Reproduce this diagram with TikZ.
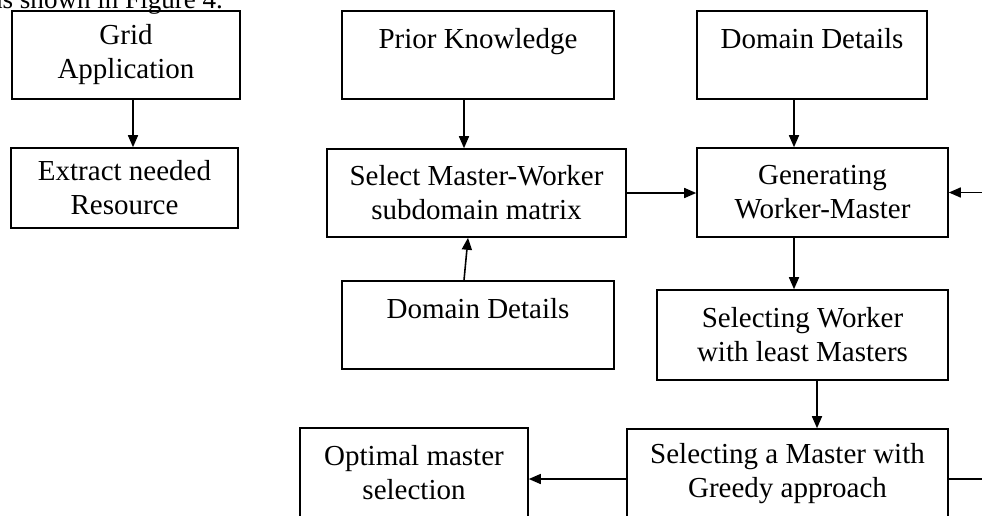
\documentclass[tikz,border=0pt]{standalone}
\usepackage{fontspec}
\setmainfont{Liberation Serif}
\usetikzlibrary{arrows.meta}
\begin{document}
\begin{tikzpicture}[->,>={Triangle[length=0.24cm,width=0.2cm]},line width=0.9pt,
        box/.style={draw,align=center,inner sep=0pt,font=\fontsize{16.5}{19.35}\selectfont}]
        \path[use as bounding box,clip] (0,0) rectangle (19.64,-10.30);
        \node (caption) [anchor=base west,font=\fontsize{15.4}{18}\selectfont] at (-0.32,-0.16) {as shown in Figure 4.};
        \node (grid) [box,minimum width=4.56cm,minimum height=1.76cm] at (2.52,-1.10) {Grid\\Application};
        \node (extract) [box,minimum width=4.54cm,minimum height=1.60cm] at (2.49,-3.76) {Extract needed\\Resource};
        \node (prior) [box,minimum width=5.44cm,minimum height=1.76cm] at (9.56,-1.10) {Prior Knowledge\\\mbox{}};
        \node (select) [box,minimum width=5.98cm,minimum height=1.76cm] at (9.53,-3.86) {Select Master-Worker\\subdomain matrix};
        \node (domtop) [box,minimum width=4.60cm,minimum height=1.76cm] at (16.24,-1.10) {Domain Details\\\mbox{}};
        \node (gen) [box,minimum width=5.02cm,minimum height=1.78cm] at (16.45,-3.85) {Generating\\Worker-Master};
        \node (dombot) [box,minimum width=5.44cm,minimum height=1.76cm] at (9.56,-6.50) {Domain Details\\\mbox{}};
        \node (worker) [box,minimum width=5.82cm,minimum height=1.80cm] at (16.05,-6.70) {Selecting Worker\\with least Masters};
        \node (optimal) [box,minimum width=4.56cm,minimum height=1.80cm] at (8.28,-9.46) {Optimal master\\selection};
        \node (greedy) [box,minimum width=6.42cm,minimum height=1.80cm] at (15.75,-9.48) {Selecting a Master with\\Greedy approach};
        \draw ([xshift=0.14cm]grid.south) -- ([xshift=0.14cm]grid.south |- extract.north);
        \draw ([xshift=-0.28cm]prior.south) -- ([xshift=-0.28cm]prior.south |- select.north);
        \draw ([xshift=-0.28cm]dombot.north) -- ([xshift=-0.17cm]select.south);
        \draw (select.east) -- (select.east -| gen.west);
        \draw ([xshift=-0.36cm]domtop.south) -- ([xshift=-0.36cm]domtop.south |- gen.north);
        \draw ([xshift=-0.57cm]gen.south) -- ([xshift=-0.57cm]gen.south |- worker.north);
        \draw ([xshift=0.29cm]worker.south) -- ([xshift=0.29cm]worker.south |- greedy.north);
        \draw ([yshift=-0.1cm]greedy.west) -- ([yshift=-0.1cm]greedy.west -| optimal.east);
        \draw ([yshift=-0.1cm]greedy.east) -- ++(1,0) |- (gen.east);
\end{tikzpicture}
\end{document}
